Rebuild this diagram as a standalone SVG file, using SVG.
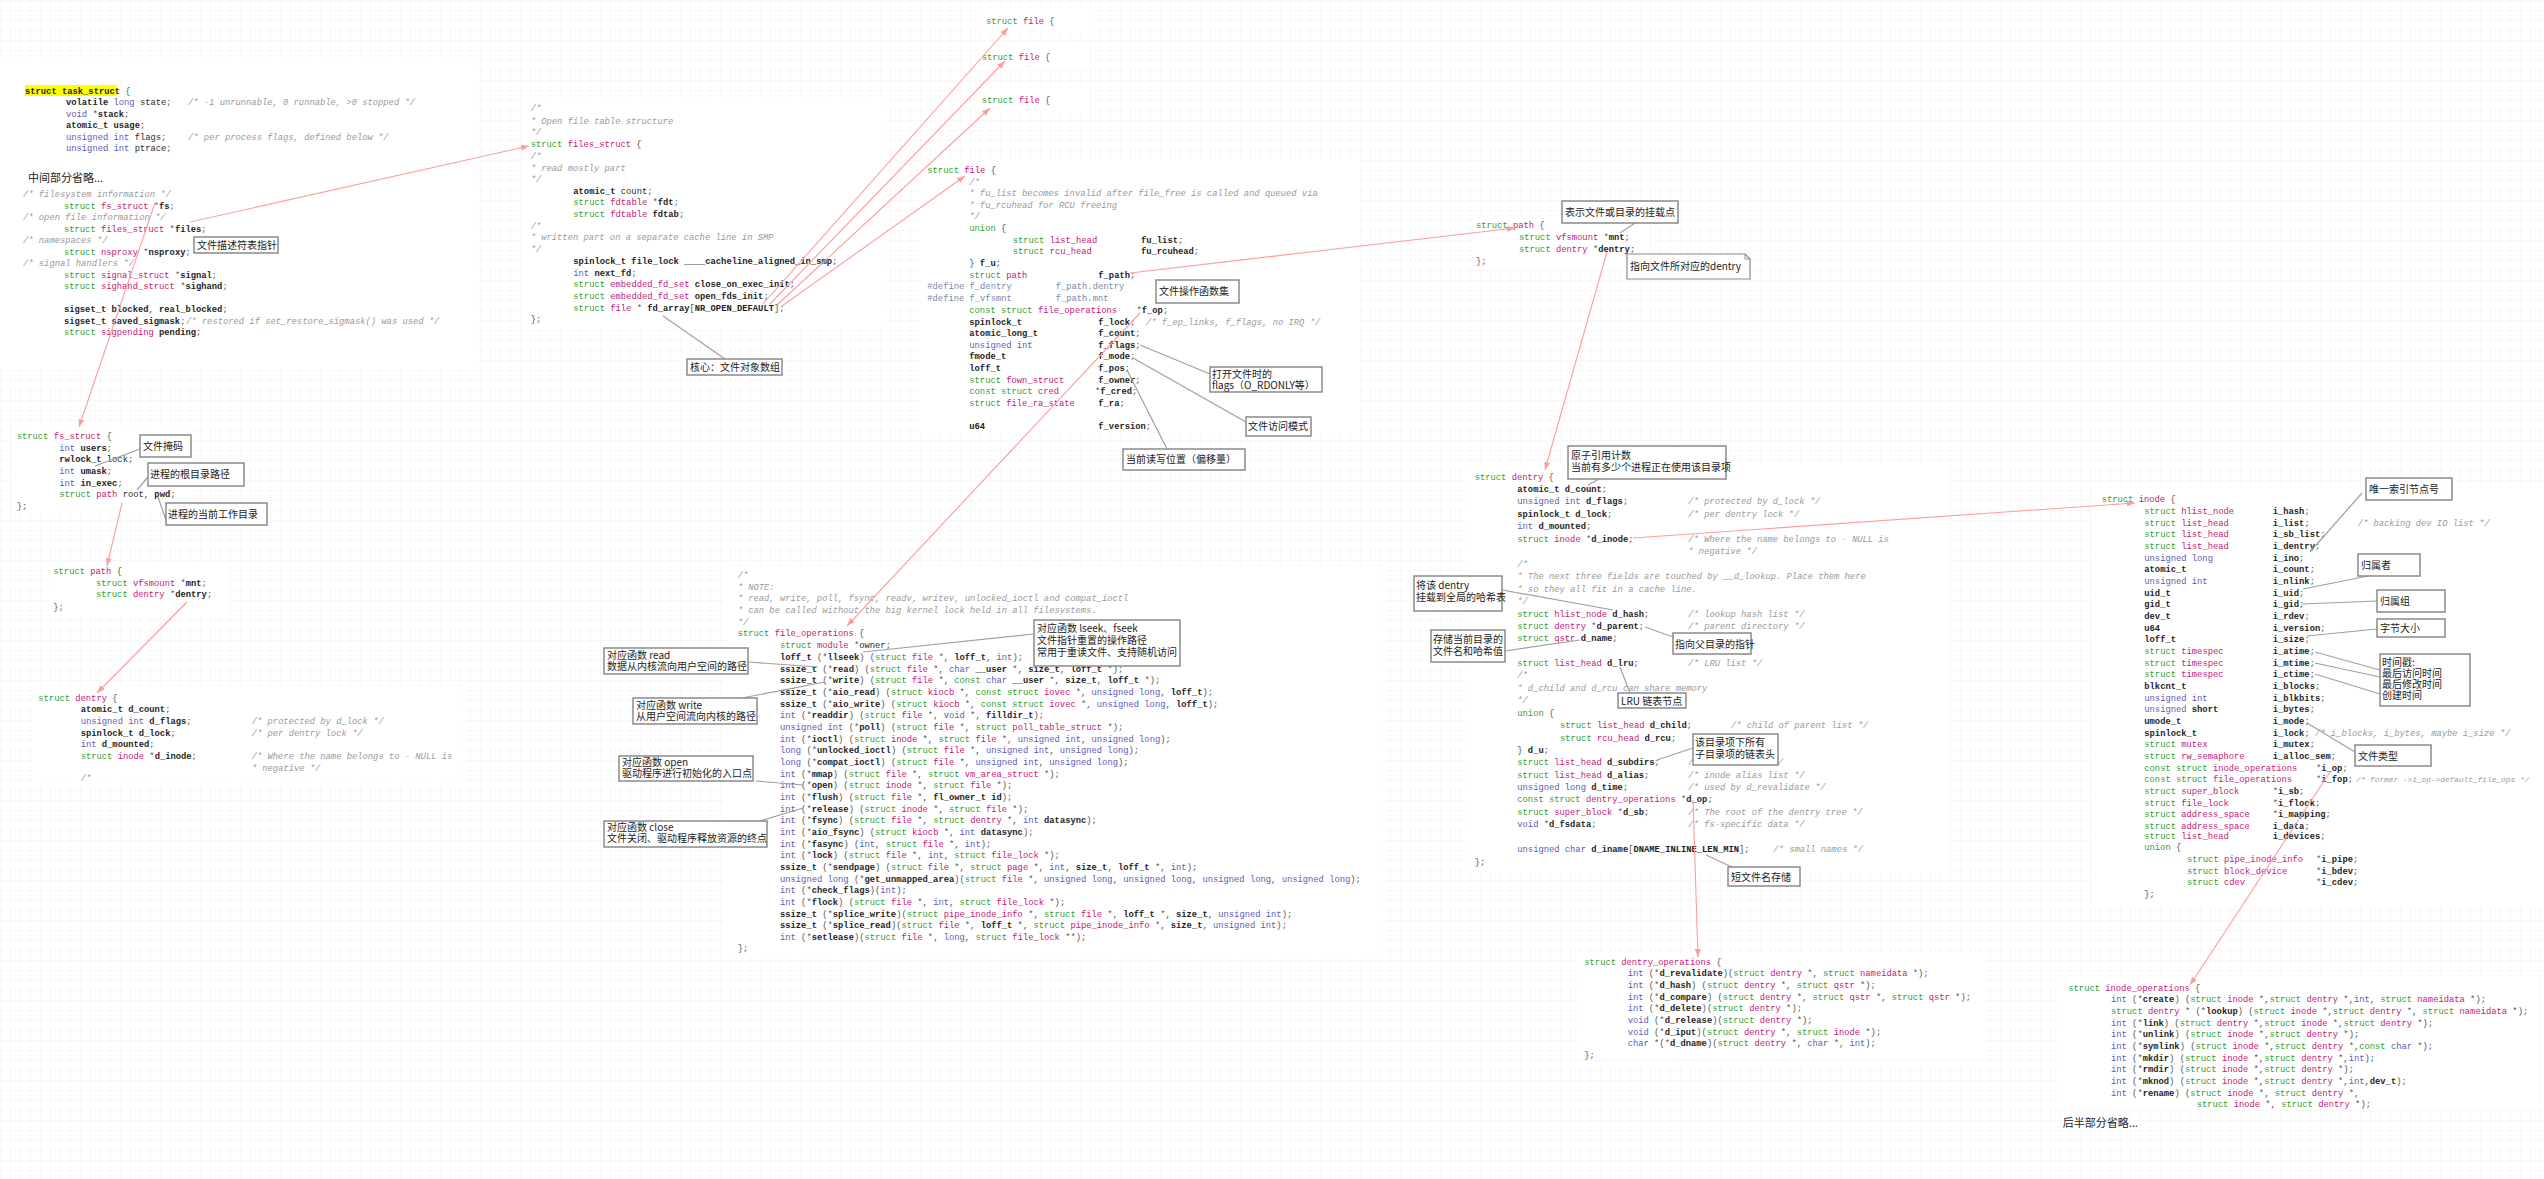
<svg xmlns="http://www.w3.org/2000/svg" width="2544" height="1179" viewBox="0 0 2544 1179" xml:space="preserve">
<style>
.m{font-family:"Liberation Mono","DejaVu Sans Mono",monospace;font-size:8.8px;fill:#555}
.k{fill:#2f9e2f}
.t{fill:#c4177a}
.b{fill:#5b5bb8}
.n{fill:#1e1e1e;font-weight:bold}
.r{fill:#2a2a2a}
.c{fill:#9a9a9a;font-style:italic}
.d{fill:#7a88b0}
.lbl{font-family:"Noto Sans CJK SC","Noto Sans",sans-serif;font-size:10px;fill:#222}
.big{font-family:"Noto Sans CJK SC","Noto Sans",sans-serif;font-size:11px;fill:#222}
.box{fill:#fff;stroke:#8a8a8a;stroke-width:1.5}
.lead{stroke:#a0a0a0;stroke-width:1.2;fill:none}
.ref{stroke:#ff9c9c;stroke-width:1.1;fill:none;marker-end:url(#ah)}
.panel{fill:#fff}
.dots{font-family:"Liberation Sans",sans-serif;font-size:7px;fill:#bbb}
</style>
<defs>
<pattern id="grid" width="10" height="10" patternUnits="userSpaceOnUse"><path d="M10 0H0V10" fill="none" stroke="#f1f1f1" stroke-width="1"/></pattern>
<marker id="ah" markerWidth="9" markerHeight="7" refX="8" refY="3.5" orient="auto" markerUnits="userSpaceOnUse"><path d="M0,0.5 L8,3.5 L0,6.5 Z" fill="#ff9c9c"/></marker>
</defs>
<rect width="2544" height="1179" fill="#fff"/>
<rect width="2544" height="1179" fill="url(#grid)"/>

<g id="task_struct">
<rect class="panel" x="0" y="60" width="476" height="310"/>
<rect x="25" y="85" width="92" height="11" fill="#ffff00"/>
<text class="m" x="25" y="94"><tspan class="n">struct task_struct</tspan> {</text>
<text class="m" x="66" y="105"><tspan class="n">volatile</tspan> <tspan class="b">long</tspan> <tspan class="r">state</tspan>;<tspan class="c" x="188">/* -1 unrunnable, 0 runnable, &gt;0 stopped */</tspan></text>
<text class="m" x="66" y="116.7"><tspan class="b">void</tspan> *<tspan class="n">stack</tspan>;</text>
<text class="m" x="66" y="128"><tspan class="n">atomic_t usage</tspan>;</text>
<text class="m" x="66" y="139.7"><tspan class="b">unsigned int</tspan> <tspan class="r">flags</tspan>;<tspan class="c" x="188">/* per process flags, defined below */</tspan></text>
<text class="m" x="66" y="151"><tspan class="b">unsigned int</tspan> <tspan class="r">ptrace</tspan>;</text>
<text class="big" x="28" y="182">中间部分省略...</text>
<text class="m c" x="23" y="197">/* filesystem information */</text>
<text class="m" x="64" y="208.7"><tspan class="k">struct</tspan> <tspan class="t">fs_struct</tspan> *<tspan class="n">fs</tspan>;</text>
<text class="m c" x="23" y="220">/* open file information */</text>
<text class="m" x="64" y="231.7"><tspan class="k">struct</tspan> <tspan class="t">files_struct</tspan> *<tspan class="n">files</tspan>;</text>
<text class="m c" x="23" y="243">/* namespaces */</text>
<text class="m" x="64" y="255"><tspan class="k">struct</tspan> <tspan class="t">nsproxy</tspan> *<tspan class="n">nsproxy</tspan>;</text>
<text class="m c" x="23" y="266">/* signal handlers */</text>
<text class="m" x="64" y="277.7"><tspan class="k">struct</tspan> <tspan class="t">signal_struct</tspan> *<tspan class="n">signal</tspan>;</text>
<text class="m" x="64" y="289"><tspan class="k">struct</tspan> <tspan class="t">sighand_struct</tspan> *<tspan class="n">sighand</tspan>;</text>
<text class="m" x="64" y="312"><tspan class="n">sigset_t blocked</tspan>, <tspan class="n">real_blocked</tspan>;</text>
<text class="m" x="64" y="323.7"><tspan class="n">sigset_t saved_sigmask</tspan>;<tspan class="c" x="186">/* restored if set_restore_sigmask() was used */</tspan></text>
<text class="m" x="64" y="335"><tspan class="k">struct</tspan> <tspan class="t">sigpending</tspan> <tspan class="n">pending</tspan>;</text>
</g>

<g id="files_struct">
<rect class="panel" x="523" y="98" width="362" height="232"/>
<text class="m c" x="530.7" y="111.3">/*</text>
<text class="m c" x="530.7" y="124"> * Open file table structure</text>
<text class="m c" x="530.7" y="135.3"> */</text>
<text class="m" x="530.7" y="147"><tspan class="k">struct</tspan> <tspan class="t">files_struct</tspan> {</text>
<text class="m c" x="530.7" y="158.7">  /*</text>
<text class="m c" x="530.7" y="170.7">   * read mostly part</text>
<text class="m c" x="530.7" y="182.3">   */</text>
<text class="m" x="573.3" y="193.7"><tspan class="n">atomic_t</tspan> <tspan class="r">count</tspan>;</text>
<text class="m" x="573.3" y="205.3"><tspan class="k">struct</tspan> <tspan class="t">fdtable</tspan> *<tspan class="n">fdt</tspan>;</text>
<text class="m" x="573.3" y="217"><tspan class="k">struct</tspan> <tspan class="t">fdtable</tspan> <tspan class="n">fdtab</tspan>;</text>
<text class="m c" x="530.7" y="228.7">  /*</text>
<text class="m c" x="530.7" y="240.3">   * written part on a separate cache line in SMP</text>
<text class="m c" x="530.7" y="252">   */</text>
<text class="m" x="573.3" y="264"><tspan class="n">spinlock_t file_lock ____cacheline_aligned_in_smp</tspan>;</text>
<text class="m" x="573.3" y="275.7"><tspan class="b">int</tspan> <tspan class="n">next_fd</tspan>;</text>
<text class="m" x="573.3" y="287.3"><tspan class="k">struct</tspan> <tspan class="t">embedded_fd_set</tspan> <tspan class="n">close_on_exec_init</tspan>;</text>
<text class="m" x="573.3" y="299"><tspan class="k">struct</tspan> <tspan class="t">embedded_fd_set</tspan> <tspan class="n">open_fds_init</tspan>;</text>
<text class="m" x="573.3" y="311"><tspan class="k">struct</tspan> <tspan class="t">file</tspan> * <tspan class="n">fd_array</tspan>[<tspan class="n">NR_OPEN_DEFAULT</tspan>];</text>
<text class="m" x="530.7" y="322.3">};</text>
</g>

<g id="file_a">
<rect class="panel" x="980" y="8" width="113" height="26"/>
<text class="m" x="986" y="23.7"><tspan class="k">struct</tspan> <tspan class="t">file</tspan> {</text>
<text class="dots" x="1030" y="31">..</text>
</g>
<g id="file_b">
<rect class="panel" x="977" y="44" width="113" height="26"/>
<text class="m" x="981.7" y="59.7"><tspan class="k">struct</tspan> <tspan class="t">file</tspan> {</text>
<text class="dots" x="1027" y="67">..</text>
</g>
<g id="file_c">
<rect class="panel" x="977" y="88" width="113" height="26"/>
<text class="m" x="981.7" y="102.7"><tspan class="k">struct</tspan> <tspan class="t">file</tspan> {</text>
<text class="dots" x="1027" y="110">..</text>
</g>

<g id="file">
<rect class="panel" x="920" y="160" width="440" height="273"/>
<text class="m" x="927.3" y="173"><tspan class="k">struct</tspan> <tspan class="t">file</tspan> {</text>
<text class="m c" x="969.3" y="184.7">/*</text>
<text class="m c" x="969.3" y="195.7"> * fu_list becomes invalid after file_free is called and queued via</text>
<text class="m c" x="969.3" y="207.7"> * fu_rcuhead for RCU freeing</text>
<text class="m c" x="969.3" y="219"> */</text>
<text class="m" x="969.3" y="231"><tspan class="k">union</tspan> {</text>
<text class="m" x="1012.7" y="242.7"><tspan class="k">struct</tspan> <tspan class="t">list_head</tspan><tspan x="1141" class="n">fu_list</tspan>;</text>
<text class="m" x="1012.7" y="254"><tspan class="k">struct</tspan> <tspan class="t">rcu_head</tspan><tspan x="1141" class="n">fu_rcuhead</tspan>;</text>
<text class="m" x="969.3" y="266">} <tspan class="n">f_u</tspan>;</text>
<text class="m" x="969.3" y="278"><tspan class="k">struct</tspan> <tspan class="t">path</tspan><tspan x="1098.3" class="n">f_path</tspan>;</text>
<text class="m d" x="927.3" y="289.3">#define f_dentry<tspan x="1055.7">f_path.dentry</tspan></text>
<text class="m d" x="927.3" y="301">#define f_vfsmnt<tspan x="1055.7">f_path.mnt</tspan></text>
<text class="m" x="969.3" y="313"><tspan class="k">const struct</tspan> <tspan class="t">file_operations</tspan><tspan x="1136.5">*</tspan><tspan class="n">f_op</tspan>;</text>
<text class="m" x="969.3" y="324.7"><tspan class="n">spinlock_t</tspan><tspan x="1098.3" class="n">f_lock</tspan>;<tspan class="c" x="1146">/* f_ep_links, f_flags, no IRQ */</tspan></text>
<text class="m" x="969.3" y="336.3"><tspan class="n">atomic_long_t</tspan><tspan x="1098.3" class="n">f_count</tspan>;</text>
<text class="m" x="969.3" y="348"><tspan class="b">unsigned int</tspan><tspan x="1098.3" class="n">f_flags</tspan>;</text>
<text class="m" x="969.3" y="359.3"><tspan class="n">fmode_t</tspan><tspan x="1098.3" class="n">f_mode</tspan>;</text>
<text class="m" x="969.3" y="371"><tspan class="n">loff_t</tspan><tspan x="1098.3" class="n">f_pos</tspan>;</text>
<text class="m" x="969.3" y="382.7"><tspan class="k">struct</tspan> <tspan class="t">fown_struct</tspan><tspan x="1098.3" class="n">f_owner</tspan>;</text>
<text class="m" x="969.3" y="394.3"><tspan class="k">const struct</tspan> <tspan class="t">cred</tspan><tspan x="1095">*</tspan><tspan class="n">f_cred</tspan>;</text>
<text class="m" x="969.3" y="406"><tspan class="k">struct</tspan> <tspan class="t">file_ra_state</tspan><tspan x="1098.3" class="n">f_ra</tspan>;</text>
<text class="m" x="969.3" y="429.3"><tspan class="n">u64</tspan><tspan x="1098.3" class="n">f_version</tspan>;</text>
</g>

<g id="path_right">
<rect class="panel" x="1473" y="216" width="177" height="52"/>
<text class="m" x="1476" y="228"><tspan class="k">struct</tspan> <tspan class="t">path</tspan> {</text>
<text class="m" x="1519" y="240"><tspan class="k">struct</tspan> <tspan class="t">vfsmount</tspan> *<tspan class="n">mnt</tspan>;</text>
<text class="m" x="1519" y="252"><tspan class="k">struct</tspan> <tspan class="t">dentry</tspan> *<tspan class="n">dentry</tspan>;</text>
<text class="m" x="1476" y="264">};</text>
</g>

<g id="dentry_right">
<rect class="panel" x="1467" y="463" width="480" height="408"/>
<text class="m" x="1474.7" y="480"><tspan class="k">struct</tspan> <tspan class="t">dentry</tspan> {</text>
<text class="m" x="1517.3" y="492"><tspan class="n">atomic_t d_count</tspan>;</text>
<text class="m" x="1517.3" y="504.3"><tspan class="b">unsigned int</tspan> <tspan class="n">d_flags</tspan>;<tspan class="c" x="1688.3">/* protected by d_lock */</tspan></text>
<text class="m" x="1517.3" y="516.7"><tspan class="n">spinlock_t d_lock</tspan>;<tspan class="c" x="1688.3">/* per dentry lock */</tspan></text>
<text class="m" x="1517.3" y="529.3"><tspan class="b">int</tspan> <tspan class="n">d_mounted</tspan>;</text>
<text class="m" x="1517.3" y="541.7"><tspan class="k">struct</tspan> <tspan class="t">inode</tspan> *<tspan class="n">d_inode</tspan>;<tspan class="c" x="1688.3">/* Where the name belongs to - NULL is</tspan></text>
<text class="m c" x="1688.3" y="554"> * negative */</text>
<text class="m c" x="1517.3" y="566.7">/*</text>
<text class="m c" x="1517.3" y="579"> * The next three fields are touched by __d_lookup.  Place them here</text>
<text class="m c" x="1517.3" y="591.7"> * so they all fit in a cache line.</text>
<text class="m c" x="1517.3" y="603.7"> */</text>
<text class="m" x="1517.3" y="616.7"><tspan class="k">struct</tspan> <tspan class="t">hlist_node</tspan> <tspan class="n">d_hash</tspan>;<tspan class="c" x="1688.3">/* lookup hash list */</tspan></text>
<text class="m" x="1517.3" y="629"><tspan class="k">struct</tspan> <tspan class="t">dentry</tspan> *<tspan class="n">d_parent</tspan>;<tspan class="c" x="1688.3">/* parent directory */</tspan></text>
<text class="m" x="1517.3" y="641.3"><tspan class="k">struct</tspan> <tspan class="t">qstr</tspan> <tspan class="n">d_name</tspan>;</text>
<text class="m" x="1517.3" y="666"><tspan class="k">struct</tspan> <tspan class="t">list_head</tspan> <tspan class="n">d_lru</tspan>;<tspan class="c" x="1688.3">/* LRU list */</tspan></text>
<text class="m c" x="1517.3" y="678">/*</text>
<text class="m c" x="1517.3" y="691"> * d_child and d_rcu can share memory</text>
<text class="m c" x="1517.3" y="703"> */</text>
<text class="m" x="1517.3" y="716"><tspan class="k">union</tspan> {</text>
<text class="m" x="1560" y="728.3"><tspan class="k">struct</tspan> <tspan class="t">list_head</tspan> <tspan class="n">d_child</tspan>;<tspan class="c" x="1731">/* child of parent list */</tspan></text>
<text class="m" x="1560" y="741"><tspan class="k">struct</tspan> <tspan class="t">rcu_head</tspan> <tspan class="n">d_rcu</tspan>;</text>
<text class="m" x="1517.3" y="753">} <tspan class="n">d_u</tspan>;</text>
<text class="m" x="1517.3" y="765.3"><tspan class="k">struct</tspan> <tspan class="t">list_head</tspan> <tspan class="n">d_subdirs</tspan>;<tspan class="c" x="1688.3">/* our children */</tspan></text>
<text class="m" x="1517.3" y="777.7"><tspan class="k">struct</tspan> <tspan class="t">list_head</tspan> <tspan class="n">d_alias</tspan>;<tspan class="c" x="1688.3">/* inode alias list */</tspan></text>
<text class="m" x="1517.3" y="790"><tspan class="b">unsigned long</tspan> <tspan class="n">d_time</tspan>;<tspan class="c" x="1688.3">/* used by d_revalidate */</tspan></text>
<text class="m" x="1517.3" y="802.3"><tspan class="k">const struct</tspan> <tspan class="t">dentry_operations</tspan> *<tspan class="n">d_op</tspan>;</text>
<text class="m" x="1517.3" y="814.7"><tspan class="k">struct</tspan> <tspan class="t">super_block</tspan> *<tspan class="n">d_sb</tspan>;<tspan class="c" x="1688.3">/* The root of the dentry tree */</tspan></text>
<text class="m" x="1517.3" y="827"><tspan class="b">void</tspan> *<tspan class="n">d_fsdata</tspan>;<tspan class="c" x="1688.3">/* fs-specific data */</tspan></text>
<text class="m" x="1517.3" y="852.3"><tspan class="b">unsigned char</tspan> <tspan class="n">d_iname</tspan>[<tspan class="n">DNAME_INLINE_LEN_MIN</tspan>];<tspan class="c" x="1773.3">/* small names */</tspan></text>
<text class="m" x="1474.7" y="865.3">};</text>
</g>

<g id="dentry_operations">
<rect class="panel" x="1580" y="953" width="403" height="107"/>
<text class="m" x="1584.3" y="964.7"><tspan class="k">struct</tspan> <tspan class="t">dentry_operations</tspan> {</text>
<text class="m" x="1627.7" y="976.3"><tspan class="b">int</tspan> (*<tspan class="n">d_revalidate</tspan>)(<tspan class="k">struct</tspan> <tspan class="t">dentry</tspan> *, <tspan class="k">struct</tspan> <tspan class="t">nameidata</tspan> *);</text>
<text class="m" x="1627.7" y="988"><tspan class="b">int</tspan> (*<tspan class="n">d_hash</tspan>) (<tspan class="k">struct</tspan> <tspan class="t">dentry</tspan> *, <tspan class="k">struct</tspan> <tspan class="t">qstr</tspan> *);</text>
<text class="m" x="1627.7" y="999.7"><tspan class="b">int</tspan> (*<tspan class="n">d_compare</tspan>) (<tspan class="k">struct</tspan> <tspan class="t">dentry</tspan> *, <tspan class="k">struct</tspan> <tspan class="t">qstr</tspan> *, <tspan class="k">struct</tspan> <tspan class="t">qstr</tspan> *);</text>
<text class="m" x="1627.7" y="1011"><tspan class="b">int</tspan> (*<tspan class="n">d_delete</tspan>)(<tspan class="k">struct</tspan> <tspan class="t">dentry</tspan> *);</text>
<text class="m" x="1627.7" y="1023"><tspan class="b">void</tspan> (*<tspan class="n">d_release</tspan>)(<tspan class="k">struct</tspan> <tspan class="t">dentry</tspan> *);</text>
<text class="m" x="1627.7" y="1034.7"><tspan class="b">void</tspan> (*<tspan class="n">d_iput</tspan>)(<tspan class="k">struct</tspan> <tspan class="t">dentry</tspan> *, <tspan class="k">struct</tspan> <tspan class="t">inode</tspan> *);</text>
<text class="m" x="1627.7" y="1046"><tspan class="b">char</tspan> *(*<tspan class="n">d_dname</tspan>)(<tspan class="k">struct</tspan> <tspan class="t">dentry</tspan> *, <tspan class="b">char</tspan> *, <tspan class="b">int</tspan>);</text>
<text class="m" x="1584.3" y="1058">};</text>
</g>

<g id="inode">
<rect class="panel" x="2093" y="488" width="451" height="415"/>
<text class="m" x="2101.7" y="502.3"><tspan class="k">struct</tspan> <tspan class="t">inode</tspan> {</text>
<text class="m" x="2144.3" y="514"><tspan class="k">struct</tspan> <tspan class="t">hlist_node</tspan><tspan x="2272.7" class="n">i_hash</tspan>;</text>
<text class="m" x="2144.3" y="525.7"><tspan class="k">struct</tspan> <tspan class="t">list_head</tspan><tspan x="2272.7" class="n">i_list</tspan>;<tspan class="c" x="2357.7">/* backing dev IO list */</tspan></text>
<text class="m" x="2144.3" y="537.3"><tspan class="k">struct</tspan> <tspan class="t">list_head</tspan><tspan x="2272.7" class="n">i_sb_list</tspan>;</text>
<text class="m" x="2144.3" y="549"><tspan class="k">struct</tspan> <tspan class="t">list_head</tspan><tspan x="2272.7" class="n">i_dentry</tspan>;</text>
<text class="m" x="2144.3" y="560.7"><tspan class="b">unsigned long</tspan><tspan x="2272.7" class="n">i_ino</tspan>;</text>
<text class="m" x="2144.3" y="572.3"><tspan class="n">atomic_t</tspan><tspan x="2272.7" class="n">i_count</tspan>;</text>
<text class="m" x="2144.3" y="584"><tspan class="b">unsigned int</tspan><tspan x="2272.7" class="n">i_nlink</tspan>;</text>
<text class="m" x="2144.3" y="595.7"><tspan class="n">uid_t</tspan><tspan x="2272.7" class="n">i_uid</tspan>;</text>
<text class="m" x="2144.3" y="607.3"><tspan class="n">gid_t</tspan><tspan x="2272.7" class="n">i_gid</tspan>;</text>
<text class="m" x="2144.3" y="619"><tspan class="n">dev_t</tspan><tspan x="2272.7" class="n">i_rdev</tspan>;</text>
<text class="m" x="2144.3" y="630.7"><tspan class="n">u64</tspan><tspan x="2272.7" class="n">i_version</tspan>;</text>
<text class="m" x="2144.3" y="642.3"><tspan class="n">loff_t</tspan><tspan x="2272.7" class="n">i_size</tspan>;</text>
<text class="m" x="2144.3" y="654"><tspan class="k">struct</tspan> <tspan class="t">timespec</tspan><tspan x="2272.7" class="n">i_atime</tspan>;</text>
<text class="m" x="2144.3" y="665.7"><tspan class="k">struct</tspan> <tspan class="t">timespec</tspan><tspan x="2272.7" class="n">i_mtime</tspan>;</text>
<text class="m" x="2144.3" y="677.3"><tspan class="k">struct</tspan> <tspan class="t">timespec</tspan><tspan x="2272.7" class="n">i_ctime</tspan>;</text>
<text class="m" x="2144.3" y="689"><tspan class="n">blkcnt_t</tspan><tspan x="2272.7" class="n">i_blocks</tspan>;</text>
<text class="m" x="2144.3" y="700.7"><tspan class="b">unsigned int</tspan><tspan x="2272.7" class="n">i_blkbits</tspan>;</text>
<text class="m" x="2144.3" y="712.3"><tspan class="b">unsigned</tspan> <tspan class="n">short</tspan><tspan x="2272.7" class="n">i_bytes</tspan>;</text>
<text class="m" x="2144.3" y="724"><tspan class="n">umode_t</tspan><tspan x="2272.7" class="n">i_mode</tspan>;</text>
<text class="m" x="2144.3" y="735.7"><tspan class="n">spinlock_t</tspan><tspan x="2272.7" class="n">i_lock</tspan>;<tspan class="c" x="2315">/* i_blocks, i_bytes, maybe i_size */</tspan></text>
<text class="m" x="2144.3" y="747.3"><tspan class="k">struct</tspan> <tspan class="t">mutex</tspan><tspan x="2272.7" class="n">i_mutex</tspan>;</text>
<text class="m" x="2144.3" y="759"><tspan class="k">struct</tspan> <tspan class="t">rw_semaphore</tspan><tspan x="2272.7" class="n">i_alloc_sem</tspan>;</text>
<text class="m" x="2144.3" y="770.7"><tspan class="k">const struct</tspan> <tspan class="t">inode_operations</tspan><tspan x="2316">*</tspan><tspan class="n">i_op</tspan>;</text>
<text class="m" x="2144.3" y="782.3"><tspan class="k">const struct</tspan> <tspan class="t">file_operations</tspan><tspan x="2316">*</tspan><tspan class="n">i_fop</tspan>;</text>
<text class="m c" x="2356" y="782.3" style="font-size:7.8px">/* former -&gt;i_op-&gt;default_file_ops */</text>
<text class="m" x="2144.3" y="794"><tspan class="k">struct</tspan> <tspan class="t">super_block</tspan><tspan x="2272.7">*</tspan><tspan class="n">i_sb</tspan>;</text>
<text class="m" x="2144.3" y="805.7"><tspan class="k">struct</tspan> <tspan class="t">file_lock</tspan><tspan x="2272.7">*</tspan><tspan class="n">i_flock</tspan>;</text>
<text class="m" x="2144.3" y="817.3"><tspan class="k">struct</tspan> <tspan class="t">address_space</tspan><tspan x="2272.7">*</tspan><tspan class="n">i_mapping</tspan>;</text>
<text class="m" x="2144.3" y="829"><tspan class="k">struct</tspan> <tspan class="t">address_space</tspan><tspan x="2272.7" class="n">i_data</tspan>;</text>
<text class="m" x="2144.3" y="838.7"><tspan class="k">struct</tspan> <tspan class="t">list_head</tspan><tspan x="2272.7" class="n">i_devices</tspan>;</text>
<text class="m" x="2144.3" y="850.3"><tspan class="k">union</tspan> {</text>
<text class="m" x="2187" y="862"><tspan class="k">struct</tspan> <tspan class="t">pipe_inode_info</tspan><tspan x="2316">*</tspan><tspan class="n">i_pipe</tspan>;</text>
<text class="m" x="2187" y="873.7"><tspan class="k">struct</tspan> <tspan class="t">block_device</tspan><tspan x="2316">*</tspan><tspan class="n">i_bdev</tspan>;</text>
<text class="m" x="2187" y="885.3"><tspan class="k">struct</tspan> <tspan class="t">cdev</tspan><tspan x="2316">*</tspan><tspan class="n">i_cdev</tspan>;</text>
<text class="m" x="2144.3" y="897.3">};</text>
</g>

<g id="inode_operations">
<rect class="panel" x="2060" y="975" width="480" height="135"/>
<text class="m" x="2068.3" y="990.7"><tspan class="k">struct</tspan> <tspan class="t">inode_operations</tspan> {</text>
<text class="m" x="2111" y="1002.3"><tspan class="b">int</tspan> (*<tspan class="n">create</tspan>) (<tspan class="k">struct</tspan> <tspan class="t">inode</tspan> *,<tspan class="k">struct</tspan> <tspan class="t">dentry</tspan> *,<tspan class="b">int</tspan>, <tspan class="k">struct</tspan> <tspan class="t">nameidata</tspan> *);</text>
<text class="m" x="2111" y="1014"><tspan class="k">struct</tspan> <tspan class="t">dentry</tspan> * (*<tspan class="n">lookup</tspan>) (<tspan class="k">struct</tspan> <tspan class="t">inode</tspan> *,<tspan class="k">struct</tspan> <tspan class="t">dentry</tspan> *, <tspan class="k">struct</tspan> <tspan class="t">nameidata</tspan> *);</text>
<text class="m" x="2111" y="1025.7"><tspan class="b">int</tspan> (*<tspan class="n">link</tspan>) (<tspan class="k">struct</tspan> <tspan class="t">dentry</tspan> *,<tspan class="k">struct</tspan> <tspan class="t">inode</tspan> *,<tspan class="k">struct</tspan> <tspan class="t">dentry</tspan> *);</text>
<text class="m" x="2111" y="1037.3"><tspan class="b">int</tspan> (*<tspan class="n">unlink</tspan>) (<tspan class="k">struct</tspan> <tspan class="t">inode</tspan> *,<tspan class="k">struct</tspan> <tspan class="t">dentry</tspan> *);</text>
<text class="m" x="2111" y="1049"><tspan class="b">int</tspan> (*<tspan class="n">symlink</tspan>) (<tspan class="k">struct</tspan> <tspan class="t">inode</tspan> *,<tspan class="k">struct</tspan> <tspan class="t">dentry</tspan> *,<tspan class="k">const</tspan> <tspan class="b">char</tspan> *);</text>
<text class="m" x="2111" y="1060.7"><tspan class="b">int</tspan> (*<tspan class="n">mkdir</tspan>) (<tspan class="k">struct</tspan> <tspan class="t">inode</tspan> *,<tspan class="k">struct</tspan> <tspan class="t">dentry</tspan> *,<tspan class="b">int</tspan>);</text>
<text class="m" x="2111" y="1072.3"><tspan class="b">int</tspan> (*<tspan class="n">rmdir</tspan>) (<tspan class="k">struct</tspan> <tspan class="t">inode</tspan> *,<tspan class="k">struct</tspan> <tspan class="t">dentry</tspan> *);</text>
<text class="m" x="2111" y="1084"><tspan class="b">int</tspan> (*<tspan class="n">mknod</tspan>) (<tspan class="k">struct</tspan> <tspan class="t">inode</tspan> *,<tspan class="k">struct</tspan> <tspan class="t">dentry</tspan> *,<tspan class="b">int</tspan>,<tspan class="n">dev_t</tspan>);</text>
<text class="m" x="2111" y="1095.7"><tspan class="b">int</tspan> (*<tspan class="n">rename</tspan>) (<tspan class="k">struct</tspan> <tspan class="t">inode</tspan> *, <tspan class="k">struct</tspan> <tspan class="t">dentry</tspan> *,</text>
<text class="m" x="2196.7" y="1107.3"><tspan class="k">struct</tspan> <tspan class="t">inode</tspan> *, <tspan class="k">struct</tspan> <tspan class="t">dentry</tspan> *);</text>
<text class="big" x="2062.7" y="1127">后半部分省略...</text>
</g>

<g id="file_operations">
<rect class="panel" x="727" y="566" width="655" height="392"/>
<text class="m c" x="737.7" y="578">/*</text>
<text class="m c" x="737.7" y="589.7"> * NOTE:</text>
<text class="m c" x="737.7" y="601.3"> * read, write, poll, fsync, readv, writev, unlocked_ioctl and compat_ioctl</text>
<text class="m c" x="737.7" y="613"> * can be called without the big kernel lock held in all filesystems.</text>
<text class="m c" x="737.7" y="624.7"> */</text>
<text class="m" x="737.7" y="636.3"><tspan class="k">struct</tspan> <tspan class="t">file_operations</tspan> {</text>
<text class="m" x="780" y="648.3"><tspan class="k">struct</tspan> <tspan class="t">module</tspan> *<tspan class="r">owner</tspan>;</text>
<text class="m" x="780" y="660"><tspan class="n">loff_t</tspan> (*<tspan class="n">llseek</tspan>) (<tspan class="k">struct</tspan> <tspan class="t">file</tspan> *, <tspan class="n">loff_t</tspan>, <tspan class="b">int</tspan>);</text>
<text class="m" x="780" y="671.7"><tspan class="n">ssize_t</tspan> (*<tspan class="n">read</tspan>) (<tspan class="k">struct</tspan> <tspan class="t">file</tspan> *, <tspan class="b">char</tspan> <tspan class="n">__user</tspan> *, <tspan class="n">size_t</tspan>, <tspan class="n">loff_t</tspan> *);</text>
<text class="m" x="780" y="683.3"><tspan class="n">ssize_t</tspan> (*<tspan class="n">write</tspan>) (<tspan class="k">struct</tspan> <tspan class="t">file</tspan> *, <tspan class="k">const</tspan> <tspan class="b">char</tspan> <tspan class="n">__user</tspan> *, <tspan class="n">size_t</tspan>, <tspan class="n">loff_t</tspan> *);</text>
<text class="m" x="780" y="695"><tspan class="n">ssize_t</tspan> (*<tspan class="n">aio_read</tspan>) (<tspan class="k">struct</tspan> <tspan class="t">kiocb</tspan> *, <tspan class="k">const struct</tspan> <tspan class="t">iovec</tspan> *, <tspan class="b">unsigned long</tspan>, <tspan class="n">loff_t</tspan>);</text>
<text class="m" x="780" y="706.7"><tspan class="n">ssize_t</tspan> (*<tspan class="n">aio_write</tspan>) (<tspan class="k">struct</tspan> <tspan class="t">kiocb</tspan> *, <tspan class="k">const struct</tspan> <tspan class="t">iovec</tspan> *, <tspan class="b">unsigned long</tspan>, <tspan class="n">loff_t</tspan>);</text>
<text class="m" x="780" y="718.3"><tspan class="b">int</tspan> (*<tspan class="n">readdir</tspan>) (<tspan class="k">struct</tspan> <tspan class="t">file</tspan> *, <tspan class="b">void</tspan> *, <tspan class="n">filldir_t</tspan>);</text>
<text class="m" x="780" y="730"><tspan class="b">unsigned int</tspan> (*<tspan class="n">poll</tspan>) (<tspan class="k">struct</tspan> <tspan class="t">file</tspan> *, <tspan class="k">struct</tspan> <tspan class="t">poll_table_struct</tspan> *);</text>
<text class="m" x="780" y="741.7"><tspan class="b">int</tspan> (*<tspan class="n">ioctl</tspan>) (<tspan class="k">struct</tspan> <tspan class="t">inode</tspan> *, <tspan class="k">struct</tspan> <tspan class="t">file</tspan> *, <tspan class="b">unsigned int</tspan>, <tspan class="b">unsigned long</tspan>);</text>
<text class="m" x="780" y="753.3"><tspan class="b">long</tspan> (*<tspan class="n">unlocked_ioctl</tspan>) (<tspan class="k">struct</tspan> <tspan class="t">file</tspan> *, <tspan class="b">unsigned int</tspan>, <tspan class="b">unsigned long</tspan>);</text>
<text class="m" x="780" y="765"><tspan class="b">long</tspan> (*<tspan class="n">compat_ioctl</tspan>) (<tspan class="k">struct</tspan> <tspan class="t">file</tspan> *, <tspan class="b">unsigned int</tspan>, <tspan class="b">unsigned long</tspan>);</text>
<text class="m" x="780" y="776.7"><tspan class="b">int</tspan> (*<tspan class="n">mmap</tspan>) (<tspan class="k">struct</tspan> <tspan class="t">file</tspan> *, <tspan class="k">struct</tspan> <tspan class="t">vm_area_struct</tspan> *);</text>
<text class="m" x="780" y="788.3"><tspan class="b">int</tspan> (*<tspan class="n">open</tspan>) (<tspan class="k">struct</tspan> <tspan class="t">inode</tspan> *, <tspan class="k">struct</tspan> <tspan class="t">file</tspan> *);</text>
<text class="m" x="780" y="800"><tspan class="b">int</tspan> (*<tspan class="n">flush</tspan>) (<tspan class="k">struct</tspan> <tspan class="t">file</tspan> *, <tspan class="n">fl_owner_t id</tspan>);</text>
<text class="m" x="780" y="811.7"><tspan class="b">int</tspan> (*<tspan class="n">release</tspan>) (<tspan class="k">struct</tspan> <tspan class="t">inode</tspan> *, <tspan class="k">struct</tspan> <tspan class="t">file</tspan> *);</text>
<text class="m" x="780" y="823.3"><tspan class="b">int</tspan> (*<tspan class="n">fsync</tspan>) (<tspan class="k">struct</tspan> <tspan class="t">file</tspan> *, <tspan class="k">struct</tspan> <tspan class="t">dentry</tspan> *, <tspan class="b">int</tspan> <tspan class="n">datasync</tspan>);</text>
<text class="m" x="780" y="835"><tspan class="b">int</tspan> (*<tspan class="n">aio_fsync</tspan>) (<tspan class="k">struct</tspan> <tspan class="t">kiocb</tspan> *, <tspan class="b">int</tspan> <tspan class="n">datasync</tspan>);</text>
<text class="m" x="780" y="846.7"><tspan class="b">int</tspan> (*<tspan class="n">fasync</tspan>) (<tspan class="b">int</tspan>, <tspan class="k">struct</tspan> <tspan class="t">file</tspan> *, <tspan class="b">int</tspan>);</text>
<text class="m" x="780" y="858.3"><tspan class="b">int</tspan> (*<tspan class="n">lock</tspan>) (<tspan class="k">struct</tspan> <tspan class="t">file</tspan> *, <tspan class="b">int</tspan>, <tspan class="k">struct</tspan> <tspan class="t">file_lock</tspan> *);</text>
<text class="m" x="780" y="870"><tspan class="n">ssize_t</tspan> (*<tspan class="n">sendpage</tspan>) (<tspan class="k">struct</tspan> <tspan class="t">file</tspan> *, <tspan class="k">struct</tspan> <tspan class="t">page</tspan> *, <tspan class="b">int</tspan>, <tspan class="n">size_t</tspan>, <tspan class="n">loff_t</tspan> *, <tspan class="b">int</tspan>);</text>
<text class="m" x="780" y="881.7"><tspan class="b">unsigned long</tspan> (*<tspan class="n">get_unmapped_area</tspan>)(<tspan class="k">struct</tspan> <tspan class="t">file</tspan> *, <tspan class="b">unsigned long</tspan>, <tspan class="b">unsigned long</tspan>, <tspan class="b">unsigned long</tspan>, <tspan class="b">unsigned long</tspan>);</text>
<text class="m" x="780" y="893.3"><tspan class="b">int</tspan> (*<tspan class="n">check_flags</tspan>)(<tspan class="b">int</tspan>);</text>
<text class="m" x="780" y="905"><tspan class="b">int</tspan> (*<tspan class="n">flock</tspan>) (<tspan class="k">struct</tspan> <tspan class="t">file</tspan> *, <tspan class="b">int</tspan>, <tspan class="k">struct</tspan> <tspan class="t">file_lock</tspan> *);</text>
<text class="m" x="780" y="916.7"><tspan class="n">ssize_t</tspan> (*<tspan class="n">splice_write</tspan>)(<tspan class="k">struct</tspan> <tspan class="t">pipe_inode_info</tspan> *, <tspan class="k">struct</tspan> <tspan class="t">file</tspan> *, <tspan class="n">loff_t</tspan> *, <tspan class="n">size_t</tspan>, <tspan class="b">unsigned int</tspan>);</text>
<text class="m" x="780" y="928.3"><tspan class="n">ssize_t</tspan> (*<tspan class="n">splice_read</tspan>)(<tspan class="k">struct</tspan> <tspan class="t">file</tspan> *, <tspan class="n">loff_t</tspan> *, <tspan class="k">struct</tspan> <tspan class="t">pipe_inode_info</tspan> *, <tspan class="n">size_t</tspan>, <tspan class="b">unsigned int</tspan>);</text>
<text class="m" x="780" y="940"><tspan class="b">int</tspan> (*<tspan class="n">setlease</tspan>)(<tspan class="k">struct</tspan> <tspan class="t">file</tspan> *, <tspan class="b">long</tspan>, <tspan class="k">struct</tspan> <tspan class="t">file_lock</tspan> **);</text>
<text class="m" x="737.7" y="951.3">};</text>
</g>

<g id="fs_struct">
<rect class="panel" x="13" y="428" width="180" height="85"/>
<text class="m" x="16.7" y="439"><tspan class="k">struct</tspan> <tspan class="t">fs_struct</tspan> {</text>
<text class="m" x="59.3" y="451"><tspan class="b">int</tspan> <tspan class="n">users</tspan>;</text>
<text class="m" x="59.3" y="462.3"><tspan class="n">rwlock_t</tspan> <tspan class="r">lock</tspan>;</text>
<text class="m" x="59.3" y="474"><tspan class="b">int</tspan> <tspan class="n">umask</tspan>;</text>
<text class="m" x="59.3" y="485.7"><tspan class="b">int</tspan> <tspan class="n">in_exec</tspan>;</text>
<text class="m" x="59.3" y="497.3"><tspan class="k">struct</tspan> <tspan class="t">path</tspan> <tspan class="r">root</tspan>, <tspan class="n">pwd</tspan>;</text>
<text class="m" x="16.7" y="509.3">};</text>
</g>

<g id="path_left">
<rect class="panel" x="50" y="563" width="180" height="52"/>
<text class="m" x="53.3" y="574"><tspan class="k">struct</tspan> <tspan class="t">path</tspan> {</text>
<text class="m" x="96" y="586"><tspan class="k">struct</tspan> <tspan class="t">vfsmount</tspan> *<tspan class="n">mnt</tspan>;</text>
<text class="m" x="96" y="597.3"><tspan class="k">struct</tspan> <tspan class="t">dentry</tspan> *<tspan class="n">dentry</tspan>;</text>
<text class="m" x="53.3" y="609.7">};</text>
</g>

<g id="dentry_left">
<rect class="panel" x="32" y="687" width="430" height="95"/>
<text class="m" x="38.3" y="701"><tspan class="k">struct</tspan> <tspan class="t">dentry</tspan> {</text>
<text class="m" x="80.7" y="712.3"><tspan class="n">atomic_t d_count</tspan>;</text>
<text class="m" x="80.7" y="724"><tspan class="b">unsigned int</tspan> <tspan class="n">d_flags</tspan>;<tspan class="c" x="251.7">/* protected by d_lock */</tspan></text>
<text class="m" x="80.7" y="735.7"><tspan class="n">spinlock_t d_lock</tspan>;<tspan class="c" x="251.7">/* per dentry lock */</tspan></text>
<text class="m" x="80.7" y="747.3"><tspan class="b">int</tspan> <tspan class="n">d_mounted</tspan>;</text>
<text class="m" x="80.7" y="759"><tspan class="k">struct</tspan> <tspan class="t">inode</tspan> *<tspan class="n">d_inode</tspan>;<tspan class="c" x="251.7">/* Where the name belongs to - NULL is</tspan></text>
<text class="m c" x="251.7" y="770.7"> * negative */</text>
<text class="m c" x="80.7" y="781.3">/*</text>
</g>

<g id="connectors">
<line class="ref" x1="190" y1="222" x2="529" y2="146"/>
<line class="ref" x1="155" y1="203" x2="79" y2="427"/>
<line class="ref" x1="122" y1="503" x2="107" y2="566"/>
<line class="ref" x1="187" y1="602" x2="97" y2="693"/>
<line class="ref" x1="763" y1="304" x2="1008" y2="28"/>
<line class="ref" x1="770" y1="304" x2="1005" y2="61"/>
<line class="ref" x1="777" y1="305" x2="990" y2="108"/>
<line class="ref" x1="782" y1="306" x2="965" y2="176"/>
<line class="ref" x1="1130" y1="273" x2="1515" y2="228"/>
<line class="ref" x1="1140" y1="313" x2="847" y2="626"/>
<line class="ref" x1="1607" y1="252" x2="1545" y2="470"/>
<line class="ref" x1="1633" y1="538" x2="2135" y2="503"/>
<line class="ref" x1="1693" y1="800" x2="1698" y2="957"/>
<line class="ref" x1="2330" y1="772" x2="2190" y2="985"/>
<line class="lead" x1="663" y1="316" x2="725" y2="359"/>
<line class="lead" x1="1140" y1="345" x2="1210" y2="374"/>
<line class="lead" x1="1133" y1="358" x2="1246" y2="422"/>
<line class="lead" x1="1127" y1="370" x2="1167" y2="449"/>
<line class="lead" x1="1635" y1="223" x2="1620" y2="233"/>
<line class="lead" x1="1599" y1="479" x2="1588" y2="485"/>
<line class="lead" x1="1502" y1="590" x2="1613" y2="610"/>
<line class="lead" x1="1505" y1="651" x2="1580" y2="640"/>
<line class="lead" x1="1645" y1="627" x2="1673" y2="637"/>
<line class="lead" x1="1620" y1="667" x2="1630" y2="693"/>
<line class="lead" x1="1657" y1="760" x2="1693" y2="748"/>
<line class="lead" x1="1706" y1="855" x2="1732" y2="867"/>
<line class="lead" x1="2362" y1="493" x2="2310" y2="552"/>
<line class="lead" x1="2368" y1="576" x2="2303" y2="589"/>
<line class="lead" x1="2377" y1="601" x2="2302" y2="604"/>
<line class="lead" x1="2377" y1="629" x2="2307" y2="636"/>
<line class="lead" x1="2315" y1="652" x2="2380" y2="670"/>
<line class="lead" x1="2315" y1="663" x2="2380" y2="677"/>
<line class="lead" x1="2315" y1="674" x2="2380" y2="694"/>
<line class="lead" x1="2307" y1="723" x2="2355" y2="752"/>
<line class="lead" x1="748" y1="662" x2="818" y2="667"/>
<line class="lead" x1="742" y1="698" x2="825" y2="682"/>
<line class="lead" x1="756" y1="781" x2="803" y2="785"/>
<line class="lead" x1="760" y1="821" x2="803" y2="808"/>
<line class="lead" x1="1034" y1="634" x2="863" y2="652"/>
<line class="lead" x1="140" y1="449" x2="95" y2="466"/>
<line class="lead" x1="148" y1="477" x2="137" y2="490"/>
<line class="lead" x1="158" y1="497" x2="166" y2="520"/>
</g>

<g id="note_files_ptr"><rect class="box" x="194" y="237" width="84" height="16"/><text class="lbl" x="197" y="249">文件描述符表指针</text></g>
<g id="note_fd_array"><rect class="box" x="687" y="359" width="95" height="16"/><text class="lbl" x="690" y="371">核心：文件对象数组</text></g>
<g id="note_fop"><rect class="box" x="1156" y="280" width="83" height="23"/><text class="lbl" x="1159" y="295">文件操作函数集</text></g>
<g id="note_flags"><rect class="box" x="1210" y="367" width="112" height="25"/><text class="lbl" x="1212" y="378">打开文件时的</text><text class="lbl" x="1212" y="389">flags（O_RDONLY等）</text></g>
<g id="note_mode"><rect class="box" x="1246" y="417" width="65" height="19"/><text class="lbl" x="1248" y="430">文件访问模式</text></g>
<g id="note_pos"><rect class="box" x="1123" y="449" width="122" height="21"/><text class="lbl" x="1126" y="463">当前读写位置（偏移量）</text></g>
<g id="note_mnt"><rect class="box" x="1562" y="201" width="116" height="22"/><text class="lbl" x="1565" y="215.5">表示文件或目录的挂载点</text></g>
<g id="note_dentry_ptr"><path d="M1627,254 H1745 L1750,259 V279 H1627 Z" fill="#fff" stroke="#8a8a8a" stroke-width="1.2"/><path d="M1745,254 V259 H1750" fill="none" stroke="#8a8a8a" stroke-width="1"/><text class="lbl" x="1630" y="270">指向文件所对应的dentry</text></g>
<g id="note_dcount"><rect class="box" x="1568" y="446" width="158" height="33"/><text class="lbl" x="1571" y="459">原子引用计数</text><text class="lbl" x="1571" y="471">当前有多少个进程正在使用该目录项</text></g>
<g id="note_dhash"><rect class="box" x="1414" y="576" width="88" height="35"/><text class="lbl" x="1416" y="589">将该 dentry</text><text class="lbl" x="1416" y="601">挂载到全局的哈希表</text></g>
<g id="note_dname"><rect class="box" x="1431" y="630" width="74" height="32"/><text class="lbl" x="1433" y="643">存储当前目录的</text><text class="lbl" x="1433" y="655">文件名和哈希值</text></g>
<g id="note_dparent"><rect class="box" x="1673" y="633" width="78" height="21"/><text class="lbl" x="1675" y="647.5">指向父目录的指针</text></g>
<g id="note_dlru"><rect class="box" x="1618" y="693" width="68" height="15"/><text class="lbl" x="1621" y="704.5">LRU 链表节点</text></g>
<g id="note_dsubdirs"><rect class="box" x="1693" y="734" width="85" height="31"/><text class="lbl" x="1695" y="746">该目录项下所有</text><text class="lbl" x="1695" y="758">子目录项的链表头</text></g>
<g id="note_diname"><rect class="box" x="1728" y="867" width="72" height="19"/><text class="lbl" x="1731" y="880.5">短文件名存储</text></g>
<g id="note_ino"><rect class="box" x="2366" y="478" width="86" height="22"/><text class="lbl" x="2369" y="493">唯一索引节点号</text></g>
<g id="note_uid"><rect class="box" x="2358" y="554" width="62" height="22"/><text class="lbl" x="2361" y="569">归属者</text></g>
<g id="note_gid"><rect class="box" x="2377" y="590" width="68" height="22"/><text class="lbl" x="2380" y="605">归属组</text></g>
<g id="note_size"><rect class="box" x="2377" y="619" width="68" height="18"/><text class="lbl" x="2380" y="632">字节大小</text></g>
<g id="note_time"><rect class="box" x="2380" y="654" width="90" height="52"/><text class="lbl" x="2382" y="666">时间戳:</text><text class="lbl" x="2382" y="677">最后访问时间</text><text class="lbl" x="2382" y="688">最后修改时间</text><text class="lbl" x="2382" y="699">创建时间</text></g>
<g id="note_imode"><rect class="box" x="2355" y="745" width="76" height="21"/><text class="lbl" x="2358" y="759.5">文件类型</text></g>
<g id="note_read"><rect class="box" x="604" y="648" width="144" height="26"/><text class="lbl" x="607" y="658.5">对应函数 read</text><text class="lbl" x="607" y="670">数据从内核流向用户空间的路径</text></g>
<g id="note_write"><rect class="box" x="633" y="698" width="124" height="26"/><text class="lbl" x="636" y="709">对应函数 write</text><text class="lbl" x="636" y="720">从用户空间流向内核的路径</text></g>
<g id="note_open"><rect class="box" x="619" y="756" width="134" height="25"/><text class="lbl" x="622" y="766">对应函数 open</text><text class="lbl" x="622" y="777">驱动程序进行初始化的入口点</text></g>
<g id="note_close"><rect class="box" x="604" y="821" width="163" height="26"/><text class="lbl" x="607" y="831">对应函数 close</text><text class="lbl" x="607" y="842">文件关闭、驱动程序释放资源的终点</text></g>
<g id="note_llseek"><rect class="box" x="1034" y="620" width="146" height="46"/><text class="lbl" x="1037" y="632">对应函数 lseek、fseek</text><text class="lbl" x="1037" y="644">文件指针重置的操作路径</text><text class="lbl" x="1037" y="656">常用于重读文件、支持随机访问</text></g>
<g id="note_umask"><rect class="box" x="140" y="435" width="51" height="22"/><text class="lbl" x="143" y="450">文件掩码</text></g>
<g id="note_root"><rect class="box" x="148" y="463" width="96" height="23"/><text class="lbl" x="150" y="478">进程的根目录路径</text></g>
<g id="note_pwd"><rect class="box" x="166" y="503" width="101" height="22"/><text class="lbl" x="168" y="518">进程的当前工作目录</text></g>
</svg>
